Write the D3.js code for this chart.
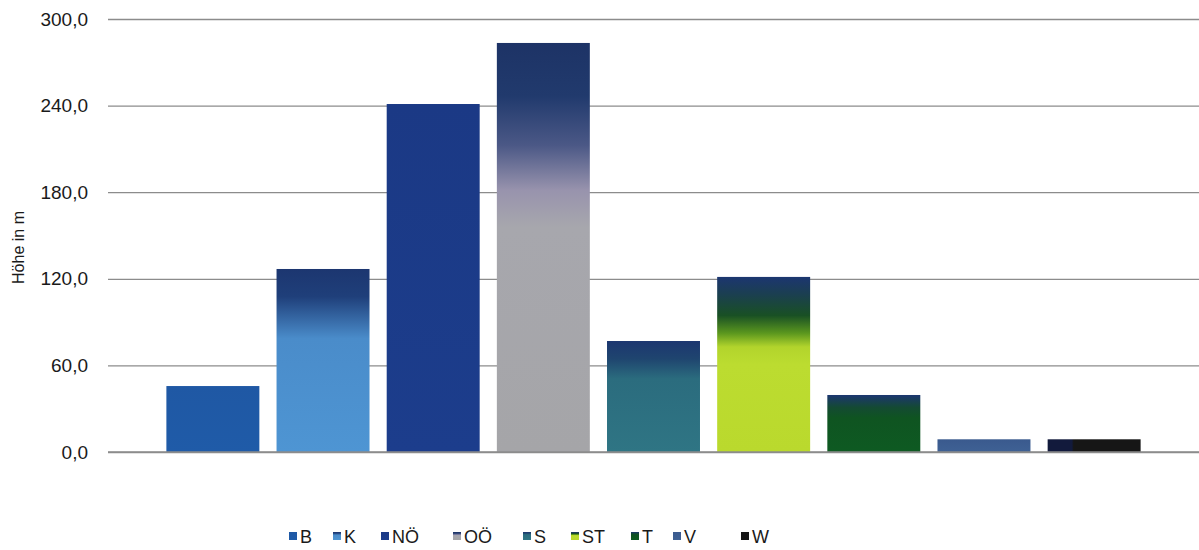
<!DOCTYPE html>
<html lang="de">
<head>
<meta charset="utf-8">
<script src="https://cdn.jsdelivr.net/npm/d3@7"></script>
<style>
  html, body { margin: 0; padding: 0; background: #ffffff; }
  svg { display: block; }
  text { font-family: "Liberation Sans", Arial, sans-serif; fill: #1a1a1a; }
</style>
</head>
<body>
<svg id="chart" width="1199" height="550"></svg>
<script>
// Bundesländer and their heights (m)
const categories = ["B", "K", "NÖ", "OÖ", "S", "ST", "T", "V", "W"];
const heights = [45.7, 126.8, 241.1, 283.4, 76.9, 121.3, 39.5, 8.8, 8.8];
const yTicks = [0, 60, 120, 180, 240, 300];
const yLabel = "Höhe in m";

// Fill styles: vertical gradients running from a dark navy cap down to the base colour
const navy = "#1c3670";
const fills = {
  "B":  [[0, "#1f58a4"], [1, "#1f5ba8"]],
  "K":  [[0, navy], [0.15, "#1f3f7a"], [0.38, "#4a8cca"], [1, "#4e95d3"]],
  "NÖ": [[0, "#1b3985"], [1, "#1c3d8c"]],
  "OÖ": [[0, "#1d3366"], [0.13, "#213a6d"], [0.25, "#4b5886"], [0.36, "#9893ad"], [0.45, "#a7a7ad"], [1, "#a5a5a8"]],
  "S":  [[0, navy], [0.16, "#1f456f"], [0.34, "#2b6c7e"], [1, "#2f7584"]],
  "ST": [[0, navy], [0.1, "#1b3f50"], [0.22, "#195024"], [0.32, "#5a961e"], [0.4, "#b2d42c"], [0.5, "#bcdc30"], [1, "#bad92d"]],
  "T":  [[0, navy], [0.22, "#144a33"], [0.4, "#0f5421"], [1, "#0e5a22"]],
  "V":  [[0, "#3a5a8e"], [1, "#3f6194"]],
  "W":  [[0, "#161616"], [1, "#161616"]]
};
// Legend marker offsets along the legend row
const legendX = [289, 333, 381, 453, 523, 571, 631, 673, 741];

const svg = d3.select("#chart");
const margin = { left: 108, right: 0, top: 19, bottom: 98 };
const W = 1199, H = 550;

const x = d3.scaleBand()
  .domain(categories)
  .range([margin.left, W - margin.right])
  .paddingInner(0.156)
  .paddingOuter(0.53);

const y = d3.scaleLinear()
  .domain([0, 300])
  .range([H - margin.bottom, margin.top]);

const de = d3.formatLocale({ decimal: ",", thousands: ".", grouping: [3], currency: ["", " €"] });
const fmt = de.format(".1f");

// gradient definitions
const defs = svg.append("defs");
categories.forEach((c, i) => {
  const g = defs.append("linearGradient")
    .attr("id", "grad" + i)
    .attr("x1", 0).attr("y1", 0).attr("x2", 0).attr("y2", 1);
  fills[c].forEach(([o, col]) => g.append("stop").attr("offset", o).attr("stop-color", col));
});
// W bar: navy patch on its left side
const gw = defs.append("linearGradient").attr("id", "gradW").attr("x1", 0).attr("y1", 0).attr("x2", 1).attr("y2", 0);
[[0, "#121a3c"], [0.26, "#121a3c"], [0.28, "#161616"], [1, "#161616"]]
  .forEach(([o, col]) => gw.append("stop").attr("offset", o).attr("stop-color", col));

// gridlines + y axis labels
const yAxis = d3.axisLeft(y)
  .tickValues(yTicks)
  .tickFormat(fmt)
  .tickSize(-(W - margin.left - margin.right))
  .tickPadding(20);

const ga = svg.append("g")
  .attr("transform", `translate(${margin.left},0)`)
  .call(yAxis);
ga.select(".domain").remove();
ga.selectAll(".tick line").attr("stroke", "#8c8c8c").attr("stroke-width", 1.3);
ga.selectAll(".tick text")
  .attr("font-size", 19)
  .attr("fill", "#1a1a1a")
  .attr("font-family", "'Liberation Sans', Arial, sans-serif");

// bars
svg.append("g").selectAll("rect")
  .data(categories.map((c, i) => ({ c, v: heights[i], i })))
  .join("rect")
  .attr("x", d => x(d.c))
  .attr("width", x.bandwidth())
  .attr("y", d => y(d.v))
  .attr("height", d => y(0) - y(d.v))
  .attr("fill", d => d.c === "W" ? "url(#gradW)" : `url(#grad${d.i})`);

// baseline
svg.append("line")
  .attr("x1", margin.left).attr("x2", W)
  .attr("y1", y(0)).attr("y2", y(0))
  .attr("stroke", "#8c8c8c").attr("stroke-width", 1.3);

// y axis title
svg.append("text")
  .attr("transform", `translate(24,${(y(0) + y(300)) / 2 + 12}) rotate(-90)`)
  .attr("text-anchor", "middle")
  .attr("font-size", 16)
  .text(yLabel);

// legend
const lg = svg.append("g").selectAll("g")
  .data(categories)
  .join("g")
  .attr("transform", (d, i) => `translate(${legendX[i]},536)`);
lg.append("rect")
  .attr("x", 0).attr("y", -4)
  .attr("width", 8).attr("height", 8)
  .attr("fill", (d, i) => `url(#grad${i})`);
lg.append("text")
  .attr("x", 11).attr("y", 7)
  .attr("font-size", 18)
  .text(d => d);
</script>
</body>
</html>
